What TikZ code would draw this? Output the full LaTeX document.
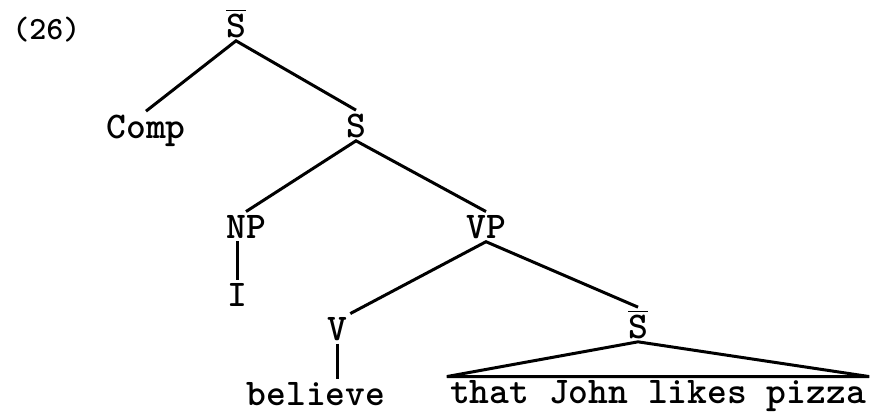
\documentclass[tikz,border=0pt]{standalone}
\usepackage{tikz}
\newcommand{\barS}{$\overline{\mbox{S}}$}
\tikzset{
  cat/.style={anchor=base, inner sep=1.5pt, font=\ttfamily\bfseries\fontsize{18.85}{22}\selectfont},
  exnum/.style={anchor=base west, inner sep=0pt, font=\ttfamily\bfseries\fontsize{16.2}{19}\selectfont},
  branch/.style={line width=1.5pt},
}
\begin{document}
\begin{tikzpicture}[x=0.5pt, y=-0.5pt]
  \useasboundingbox (0,0) rectangle (871,413);
  \node[exnum] (num) at (12,39) {(26)};
  \node[cat] (sbartop) at (236,37) {\barS};
  \node[cat] (comp) at (146,138) {Comp};
  \node[cat] (s) at (356,137) {S};
  \node[cat] (np) at (246,238) {NP};
  \node[cat] (vp) at (486,238) {VP};
  \node[cat] (pron) at (237,306) {I};
  \node[cat] (v) at (337,340) {V};
  \node[cat] (sbarlow) at (638,338) {\barS};
  \node[cat] (believe) at (316,405) {believe};
  \node[cat] (clause) at (658,403) {that John likes pizza};
  \draw[branch] (comp.north) -- (sbartop.south) -- (s.north);
  \draw[branch] (np.north) -- (s.south) -- (vp.north);
  \draw[branch] (np.south -| pron.north) -- (pron.north);
  \draw[branch] (v.north east) -- (vp.south) -- (sbarlow.north);
  \draw[branch] (v.south) -- (v.south |- believe.north);
  \draw[branch] (clause.north west) -- (sbarlow.south) -- (clause.north east) -- cycle;
\end{tikzpicture}
\end{document}
